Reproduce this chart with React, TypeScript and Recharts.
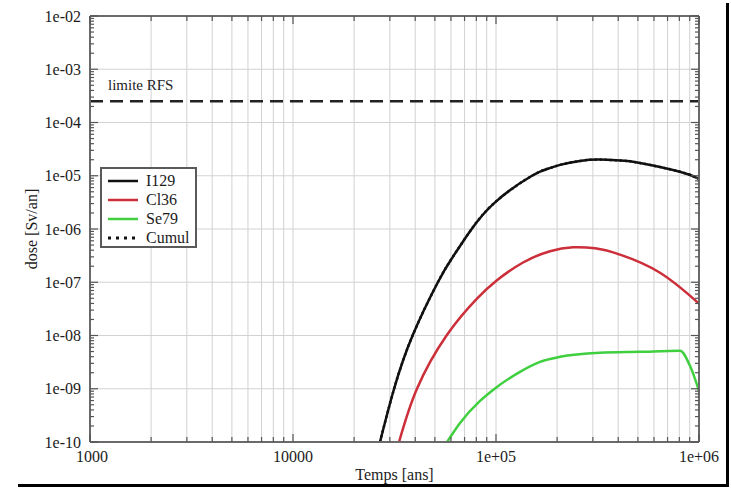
import React from "react";
import {
  LineChart,
  Line,
  XAxis,
  YAxis,
  CartesianGrid,
  ReferenceLine,
  Legend,
  Label,
} from "recharts";

// axis ticks
const xMajors = [1e3, 1e4, 1e5, 1e6];
const xTickLabels = ["1000", "10000", "1e+05", "1e+06"];
const yMajors = [1e-10, 1e-9, 1e-8, 1e-7, 1e-6, 1e-5, 1e-4, 1e-3, 1e-2];
const yTickLabels = ["1e-10", "1e-09", "1e-08", "1e-07", "1e-06", "1e-05", "1e-04", "1e-03", "1e-02"];
const minorSteps = [2, 3, 4, 5, 6, 7, 8, 9];

// dose limit
const limitRFS = 2.5e-4;

// I129
const i129Years = [26830, 31450, 39000, 51800, 60700, 74500, 98900, 150400, 184000, 206700, 259000, 325000, 408000, 512000, 805000, 1000000];
const i129Dose = [1e-10, 9.9e-10, 1.04e-8, 1.01e-7, 2.83e-7, 9.1e-7, 3.17e-6, 1.0e-5, 1.39e-5, 1.6e-5, 1.9e-5, 2.01e-5, 1.93e-5, 1.74e-5, 1.19e-5, 8.77e-6];

// Cl36
const cl36Years = [33300, 40800, 57400, 80600, 101100, 135900, 184500, 239400, 307400, 408000, 642500, 1000000];
const cl36Dose = [1e-10, 1e-9, 1.03e-8, 4.92e-8, 1.09e-7, 2.35e-7, 3.83e-7, 4.54e-7, 4.33e-7, 3.3e-7, 1.51e-7, 3.98e-8];

// Se79
const se79Years = [57400, 66500, 83400, 96700, 131300, 164700, 206700, 325000, 512000, 806000, 903000, 1000000];
const se79Dose = [1e-10, 2.28e-10, 5.9e-10, 9.5e-10, 2.08e-9, 3.2e-9, 3.98e-9, 4.73e-9, 4.94e-9, 5.16e-9, 2.7e-9, 9.1e-10];

// Cumul (drawn on top of I129 in the picture)
const cumulYears = [26830, 31450, 39000, 51800, 60700, 74500, 98900, 150400, 184000, 206700, 259000, 325000, 408000, 512000, 805000, 1000000];
const cumulDose = [1e-10, 9.9e-10, 1.04e-8, 1.01e-7, 2.83e-7, 9.1e-7, 3.17e-6, 1.0e-5, 1.39e-5, 1.6e-5, 1.9e-5, 2.01e-5, 1.93e-5, 1.74e-5, 1.19e-5, 8.77e-6];

const FONT = '"Liberation Serif", "Times New Roman", serif';
const TEXT = "#1c1c1c";
const TICK = "#555";
const FRAME = "#6a6a6a";
const GRID = "#d2d2d2";

const BLACK = "#111111";
const RED = "#cc2f3a";
const GREEN = "#3fcf3f";

const toPoints = (years: number[], dose: number[]) =>
  years.map((t, k) => ({ t, v: dose[k] }));

const withMinors = (majors: number[]) =>
  majors.flatMap((m, i) =>
    i === majors.length - 1 ? [m] : [m, ...minorSteps.map((s) => s * m)]
  );

const xTicks = withMinors(xMajors);
const yTicks = withMinors(yMajors);

const majorIndex = (v: number, majors: number[]) =>
  majors.findIndex((m) => Math.abs(Math.log10(v / m)) < 1e-9);

const Y_MARGIN = 9;
const X_MARGIN = 6;

function LeftTick(props: any) {
  const { x, y, payload } = props;
  const i = majorIndex(payload.value, yMajors);
  const ax = x + Y_MARGIN;
  return (
    <g>
      <line x1={ax} x2={ax + (i >= 0 ? 8 : 4)} y1={y} y2={y} stroke={TICK} strokeWidth={1.2} />
      {i >= 0 && (
        <text x={x} y={y} textAnchor="end" dominantBaseline="central" fontSize={16} fontFamily={FONT} fill={TEXT}>
          {yTickLabels[i]}
        </text>
      )}
    </g>
  );
}

function RightTick(props: any) {
  const { x, y, payload } = props;
  const major = majorIndex(payload.value, yMajors) >= 0;
  return <line x1={x} x2={x - (major ? 8 : 4)} y1={y} y2={y} stroke={TICK} strokeWidth={1.2} />;
}

function BottomTick(props: any) {
  const { x, y, payload } = props;
  const i = majorIndex(payload.value, xMajors);
  const ay = y - X_MARGIN;
  return (
    <g>
      <line x1={x} x2={x} y1={ay} y2={ay - (i >= 0 ? 8 : 5)} stroke={TICK} strokeWidth={1.2} />
      {i >= 0 && (
        <text x={x + (i === 0 ? 2 : 0)} y={y + 8} textAnchor="middle" dominantBaseline="central" fontSize={16} fontFamily={FONT} fill={TEXT}>
          {xTickLabels[i]}
        </text>
      )}
    </g>
  );
}

function TopTick(props: any) {
  const { x, y, payload } = props;
  const major = majorIndex(payload.value, xMajors) >= 0;
  return <line x1={x} x2={x} y1={y} y2={y + (major ? 8 : 5)} stroke={TICK} strokeWidth={1.2} />;
}

function YTitle(props: any) {
  const { viewBox } = props;
  const cx = viewBox.x + 31;
  const cy = viewBox.y + viewBox.height / 2;
  return (
    <text x={cx} y={cy} transform={`rotate(-90 ${cx} ${cy})`} textAnchor="middle" dominantBaseline="central" fontSize={16} fontFamily={FONT} fill={TEXT}>
      dose [Sv/an]
    </text>
  );
}

function XTitle(props: any) {
  const { viewBox } = props;
  return (
    <text x={viewBox.x + viewBox.width / 2} y={viewBox.y + 32} textAnchor="middle" dominantBaseline="central" fontSize={16} fontFamily={FONT} fill={TEXT}>
      Temps [ans]
    </text>
  );
}

function LimitLabel(props: any) {
  const { viewBox } = props;
  return (
    <text x={viewBox.x + 18} y={viewBox.y - 16} dominantBaseline="central" fontSize={15} fontFamily={FONT} fill={TEXT}>
      limite RFS
    </text>
  );
}

const legendItems = [
  { name: "I129", color: BLACK, dash: undefined as string | undefined },
  { name: "Cl36", color: RED, dash: undefined },
  { name: "Se79", color: GREEN, dash: undefined },
  { name: "Cumul", color: BLACK, dash: "3 5" },
];

function LegendBox() {
  return (
    <div
      style={{
        border: "2px solid #5a5a5a",
        background: "#fff",
        padding: "2px 0 2px 6px",
        width: 97,
        height: 81,
        boxSizing: "border-box",
        fontFamily: FONT,
        fontSize: 16,
        color: TEXT,
      }}
    >
      {legendItems.map((it) => (
        <div key={it.name} style={{ display: "flex", alignItems: "center", height: 19 }}>
          <svg width={30} height={8} style={{ marginRight: 8 }}>
            <line x1={0} x2={30} y1={4} y2={4} stroke={it.color} strokeWidth={it.dash ? 3 : 2.5} strokeDasharray={it.dash} />
          </svg>
          <span>{it.name}</span>
        </div>
      ))}
    </div>
  );
}

export default function App() {
  return (
    <div style={{ position: "absolute", left: 0, top: 0, width: 731, height: 488, background: "#fff" }}>
      <LineChart width={731} height={488} margin={{ top: 15, right: 31, bottom: 6, left: 0 }}>
        <CartesianGrid xAxisId="bottom" yAxisId="left" stroke={GRID} strokeWidth={1} horizontalValues={yMajors} />
        <XAxis
          xAxisId="bottom"
          type="number"
          dataKey="t"
          scale="log"
          domain={[1e3, 1e6]}
          allowDataOverflow
          ticks={xTicks}
          interval={0}
          tickSize={0}
          tickMargin={X_MARGIN}
          tick={<BottomTick />}
          height={40}
          axisLine={{ stroke: FRAME, strokeWidth: 2 }}
        >
          <Label content={<XTitle />} />
        </XAxis>
        <XAxis
          xAxisId="top"
          orientation="top"
          type="number"
          dataKey="t"
          scale="log"
          domain={[1e3, 1e6]}
          allowDataOverflow
          ticks={xTicks}
          interval={0}
          tickSize={0}
          tickMargin={0}
          tick={<TopTick />}
          height={1}
          axisLine={{ stroke: FRAME, strokeWidth: 2 }}
        />
        <YAxis
          yAxisId="left"
          type="number"
          dataKey="v"
          scale="log"
          domain={[1e-10, 1e-2]}
          allowDataOverflow
          ticks={yTicks}
          interval={0}
          tickSize={0}
          tickMargin={Y_MARGIN}
          tick={<LeftTick />}
          width={90}
          axisLine={{ stroke: FRAME, strokeWidth: 2 }}
        >
          <Label content={<YTitle />} />
        </YAxis>
        <YAxis
          yAxisId="right"
          orientation="right"
          type="number"
          dataKey="v"
          scale="log"
          domain={[1e-10, 1e-2]}
          allowDataOverflow
          ticks={yTicks}
          interval={0}
          tickSize={0}
          tickMargin={0}
          tick={<RightTick />}
          width={1}
          axisLine={{ stroke: FRAME, strokeWidth: 2 }}
        />

        <ReferenceLine
          xAxisId="bottom"
          yAxisId="left"
          y={limitRFS}
          stroke="#222"
          strokeWidth={2.5}
          strokeDasharray="13 7"
          label={<LimitLabel />}
        />

        <Line xAxisId="bottom" yAxisId="left" data={toPoints(i129Years, i129Dose)} dataKey="v" name="I129" type="natural" stroke={BLACK} strokeWidth={2.5} dot={false} isAnimationActive={false} />
        <Line xAxisId="bottom" yAxisId="left" data={toPoints(cl36Years, cl36Dose)} dataKey="v" name="Cl36" type="natural" stroke={RED} strokeWidth={2.5} dot={false} isAnimationActive={false} />
        <Line xAxisId="bottom" yAxisId="left" data={toPoints(se79Years, se79Dose)} dataKey="v" name="Se79" type="monotone" stroke={GREEN} strokeWidth={2.5} dot={false} isAnimationActive={false} />
        <Line xAxisId="bottom" yAxisId="left" data={toPoints(cumulYears, cumulDose)} dataKey="v" name="Cumul" type="natural" stroke={BLACK} strokeWidth={2.5} strokeDasharray="2 3" dot={false} isAnimationActive={false} />

        <Legend
          layout="vertical"
          align="center"
          verticalAlign="middle"
          content={<LegendBox />}
          wrapperStyle={{ left: 100, top: 167, width: 97, height: 81 }}
        />
      </LineChart>
      <div
        style={{
          position: "absolute",
          left: 18,
          top: 3,
          width: 711,
          height: 484,
          boxSizing: "border-box",
          borderRight: "3px solid #000",
          borderBottom: "3px solid #000",
          pointerEvents: "none",
        }}
      />
    </div>
  );
}
